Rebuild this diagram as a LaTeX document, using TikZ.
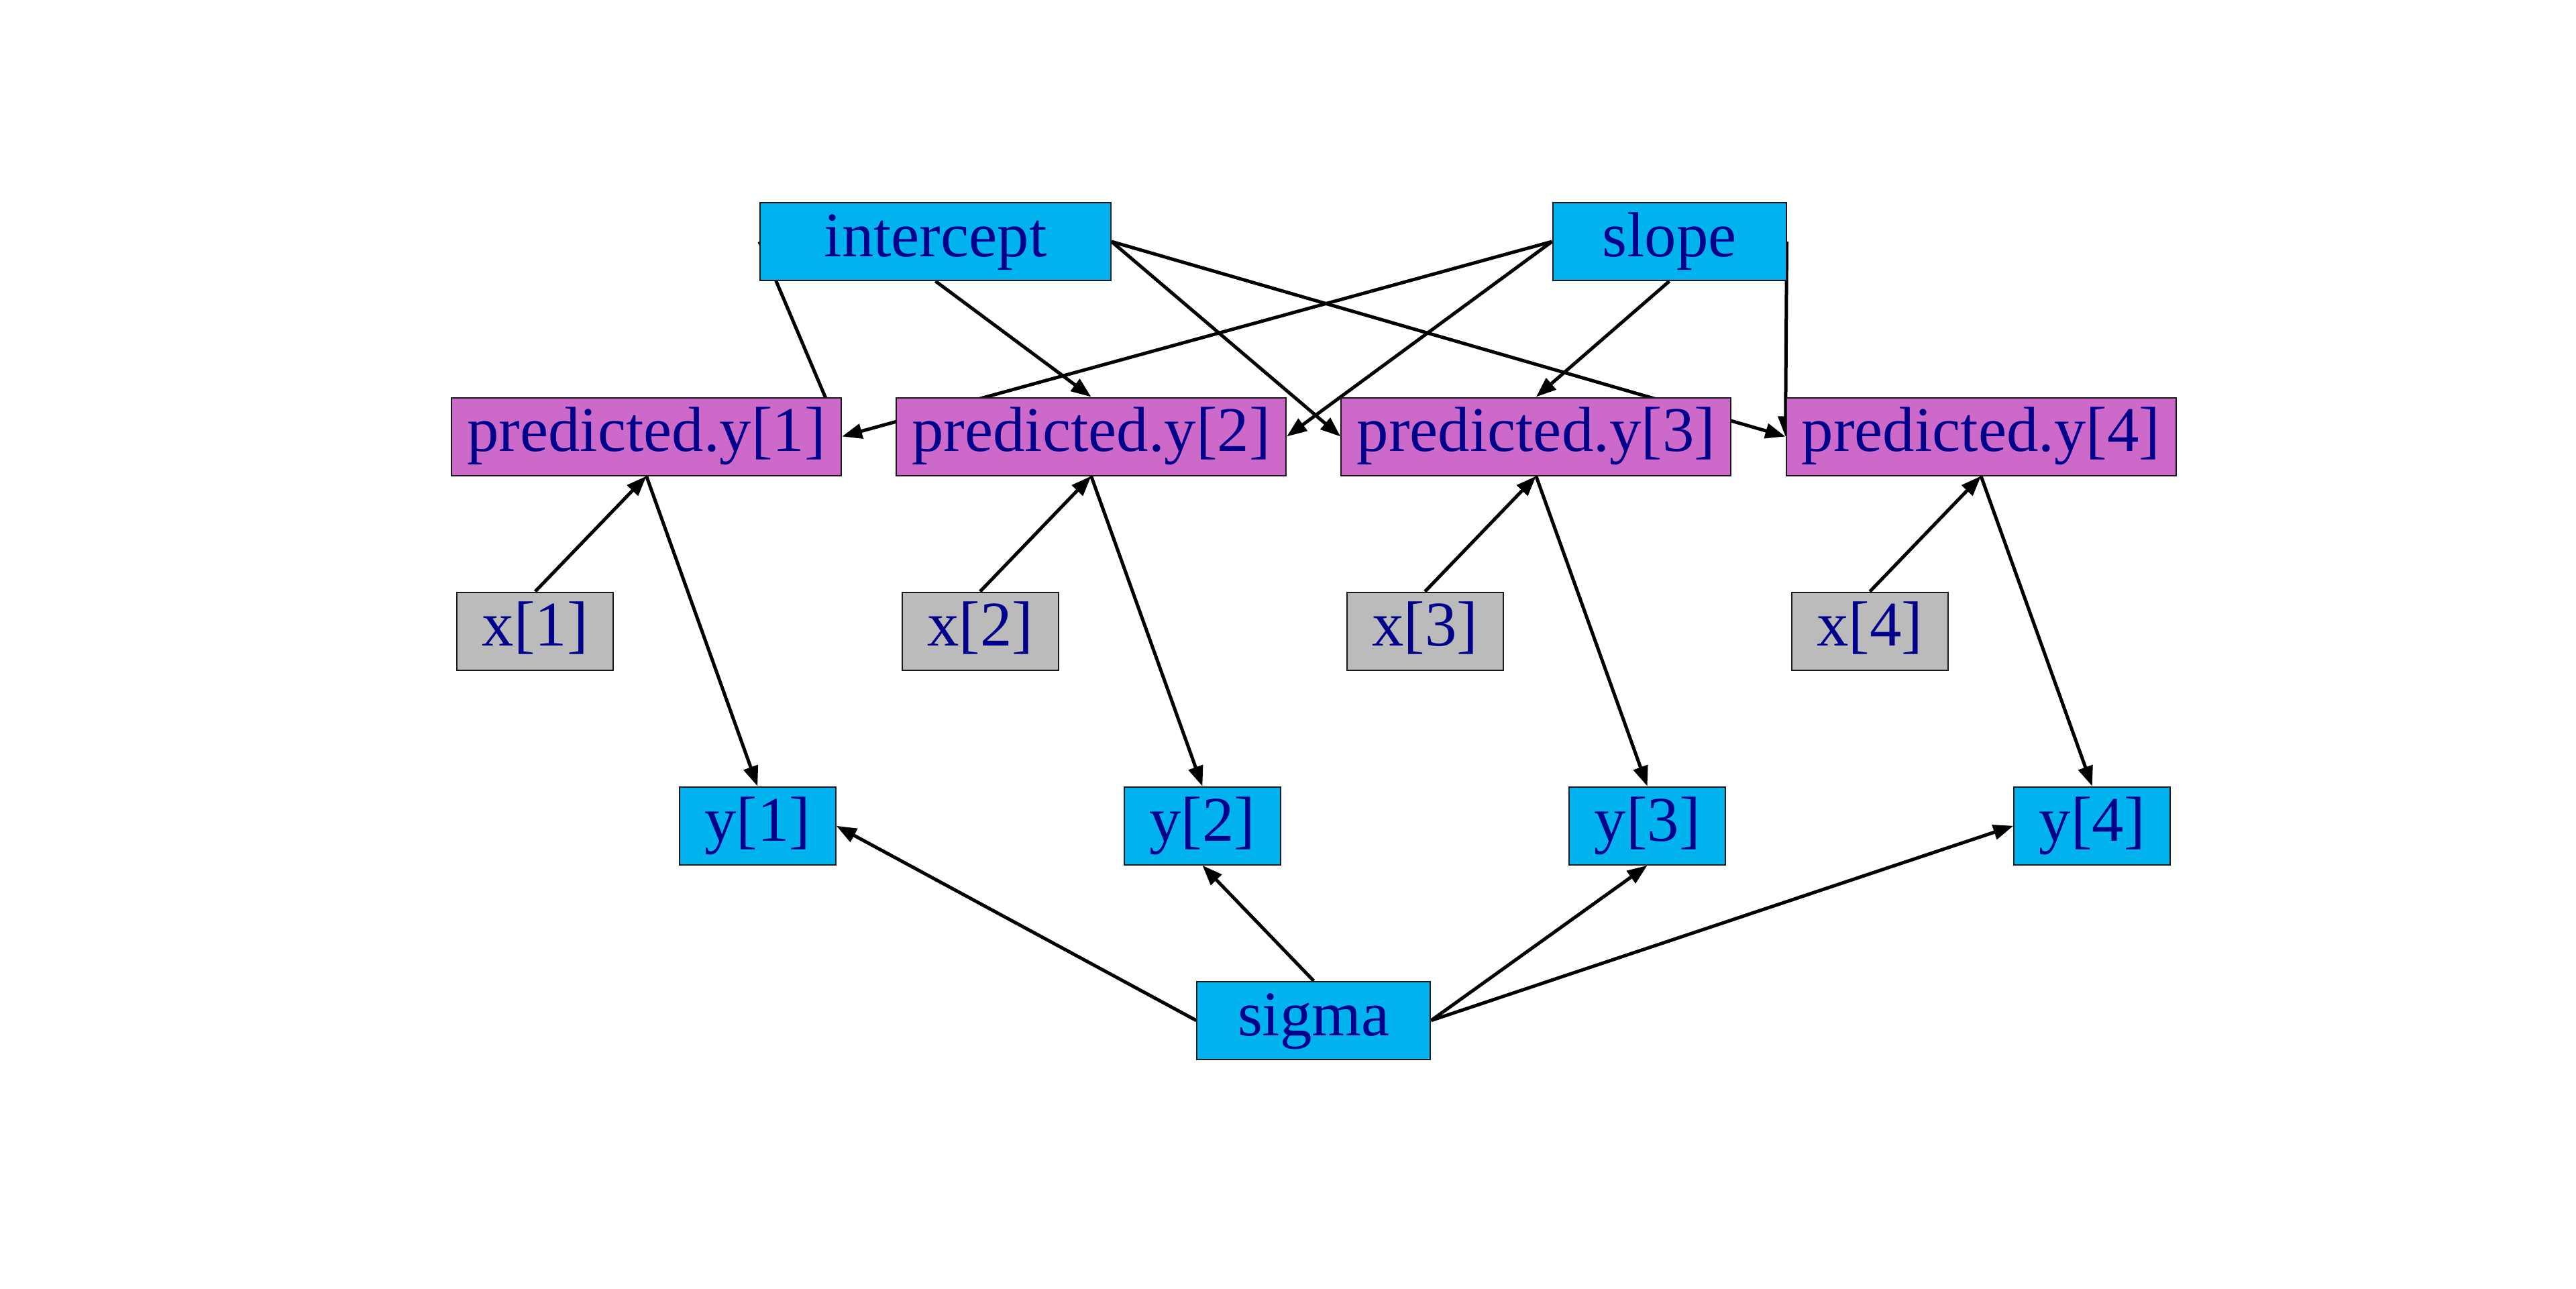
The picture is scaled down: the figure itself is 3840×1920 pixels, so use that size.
\documentclass[tikz,border=0pt]{standalone}
\usepackage{fontspec}
\setmainfont{Liberation Serif}
\usetikzlibrary{arrows.meta,backgrounds}
\definecolor{nblue}{HTML}{00B2EE}
\definecolor{npurple}{HTML}{CD69C9}
\definecolor{ngray}{HTML}{BBBBBB}
\definecolor{tdark}{HTML}{00008B}
\begin{document}
\begin{tikzpicture}[x=0.25pt,y=-0.25pt,
  box/.style={draw=black!90,line width=0.5pt,inner sep=0pt,minimum height=29pt,
    text=tdark,font=\fontsize{23.7pt}{28pt}\selectfont,text height=16.35pt,text depth=5.2pt},
  stoch/.style={box,fill=nblue},
  det/.style={box,fill=npurple,minimum width=145.25pt},
  data/.style={box,fill=ngray,minimum width=58.25pt},
  edge/.style={line width=1.25pt,-{Triangle[length=7.5pt,width=5.5pt]}}]
\useasboundingbox (0,0) rectangle (3840,1920);
% nodes
\node[stoch,minimum width=130.75pt] (intercept) at (1394.5,360) {intercept};
\node[stoch,minimum width=87pt] (slope) at (2488.5,360) {slope};
\node[det] (pred1) at (963.6,650.5) {predicted.y[1]};
\node[det] (pred2) at (1626.6,650.5) {predicted.y[2]};
\node[det] (pred3) at (2289.8,650.5) {predicted.y[3]};
\node[det] (pred4) at (2953,650.5) {predicted.y[4]};
\node[data] (x1) at (797.8,940.5) {x[1]};
\node[data] (x2) at (1461,940.5) {x[2]};
\node[data] (x3) at (2124.2,940.5) {x[3]};
\node[data] (x4) at (2787.4,940.5) {x[4]};
\node[stoch,minimum width=58.25pt] (y1) at (1129.2,1230.7) {y[1]};
\node[stoch,minimum width=58.25pt] (y2) at (1792.4,1230.7) {y[2]};
\node[stoch,minimum width=58.25pt] (y3) at (2455.6,1230.7) {y[3]};
\node[stoch,minimum width=58.25pt] (y4) at (3118.8,1230.7) {y[4]};
\node[stoch,minimum width=87pt] (sigma) at (1958.3,1520.8) {sigma};
% edges
\begin{scope}[on background layer]
\fill[white] (0,0) rectangle (3840,1920);
\draw[edge] (intercept.west) -- (pred1.east);
\draw[edge] (intercept.south) -- (pred2.north);
\draw[edge] (intercept.east) -- (pred3.west);
\draw[edge] (intercept.east) -- (pred4.west);
\draw[edge] (slope.west) -- (pred1.east);
\draw[edge] (slope.west) -- (pred2.east);
\draw[edge] (slope.south) -- (pred3.north);
\draw[edge] (slope.east) -- (pred4.west);
\draw[edge] (x1.north) -- (pred1.south);
\draw[edge] (x2.north) -- (pred2.south);
\draw[edge] (x3.north) -- (pred3.south);
\draw[edge] (x4.north) -- (pred4.south);
\draw[edge] (pred1.south) -- (y1.north);
\draw[edge] (pred2.south) -- (y2.north);
\draw[edge] (pred3.south) -- (y3.north);
\draw[edge] (pred4.south) -- (y4.north);
\draw[edge] (sigma.west) -- (y1.east);
\draw[edge] (sigma.north) -- (y2.south);
\draw[edge] (sigma.east) -- (y3.south);
\draw[edge] (sigma.east) -- (y4.west);
\end{scope}
\end{tikzpicture}
\end{document}
